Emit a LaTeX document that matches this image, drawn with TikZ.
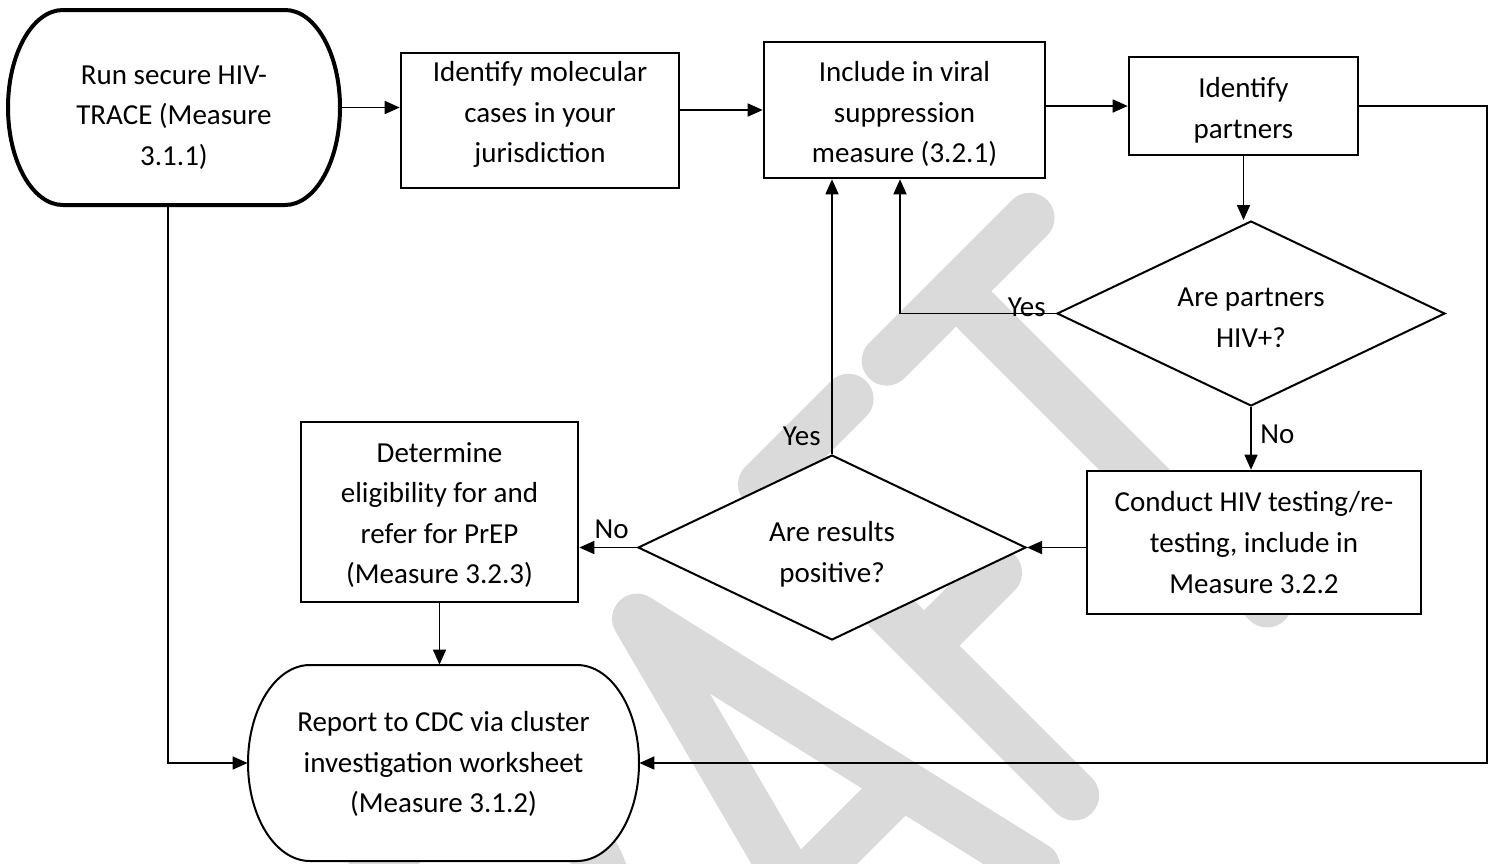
\documentclass[tikz,border=0pt]{standalone}
\usepackage{fontspec}
\setmainfont{Carlito}
\usetikzlibrary{shapes.geometric, arrows.meta, fit, calc}
\definecolor{wmgray}{RGB}{218,218,218}
\begin{document}
\begin{tikzpicture}[x=0.5pt, y=-0.5pt,
  every node/.style={font=\fontsize{14.5pt}{20.3pt}\selectfont},
  box/.style={draw, line width=1.3pt, fill=white, inner sep=0pt, rectangle},
  term/.style={inner sep=0pt, rectangle},
  termline/.style={draw, fill=white, line width=1pt},
  decision/.style={draw, diamond, line width=1pt, fill=white, inner sep=0pt, aspect=2.1,
                   minimum width=194pt, minimum height=92.5pt},
  txt/.style={inner sep=0pt, align=center},
  conn/.style={line width=0.8pt, -{Triangle[length=7.5pt,width=6.5pt]}},
  lbl/.style={inner sep=0pt},
  wm/.style={draw=wmgray, line width=25pt, line cap=round, line join=round},
]
\useasboundingbox (0,0) rectangle (1492,863);
\fill[white] (0,0) rectangle (1492,863);

% diagonal DRAFT watermark, stroked letters in a rotated frame
\begin{scope}
  \clip (0,0) rectangle (1492,863);
  \begin{scope}[rotate=45]
    % R
    \draw[wm] (-370,1322) -- (-370,882) -- (-265,882)
      .. controls (-150,882) and (-150,1092) .. (-265,1092) -- (-370,1092);
    \draw[wm] (-285,1092) -- (-175,1322);
    % A
    \draw[wm] (-107,1345) -- (13,888) -- (119,1345);
    \draw[wm] (-67,1192) -- (83,1192);
    % F
    \draw[wm] (197,1322) -- (197,882) -- (318,882);
    \draw[wm] (197,1110) -- (300,1110);
    % T
    \draw[wm] (372,882) -- (574,882);
    \draw[wm] (470,882) -- (470,1322);
  \end{scope}
\end{scope}

% terminator outlines
\draw[termline, line width=2pt] (63,10) -- (285,10)
  arc[start angle=90, end angle=-90, x radius=27.5pt, y radius=48.75pt] -- (63,205)
  arc[start angle=270, end angle=90, x radius=27.5pt, y radius=48.75pt] -- cycle;
\draw[termline] (310,665) -- (577,665)
  arc[start angle=90, end angle=-90, x radius=31pt, y radius=49pt] -- (310,861)
  arc[start angle=270, end angle=90, x radius=31pt, y radius=49pt] -- cycle;

% shapes
\node[term, fit={(8,10)(340,205)}] (start) {};
\node[box, fit={(401,53)(679,188)}] (molec) {};
\node[box, fit={(764,42)(1045,178)}] (viral) {};
\node[box, fit={(1129,57)(1358,155)}] (partners) {};
\node[decision] (d1) at (1251,313.5) {};
\node[box, fit={(1087,471)(1421,614)}] (conduct) {};
\node[decision] (d2) at (832,547.5) {};
\node[box, fit={(301,422)(578,602)}] (prep) {};
\node[term, fit={(248,665)(639,861)}] (report) {};

% texts
\node[txt] (startT) at ([yshift=-5pt]start.center) {Run secure HIV-\\TRACE (Measure\\3.1.1)};
\node[txt] (molecT) at ([yshift=3pt]molec.center) {Identify molecular\\cases in your\\jurisdiction};
\node[txt] (viralT) at ([yshift=-2pt]viral.center) {Include in viral\\suppression\\measure (3.2.1)};
\node[txt] (partnersT) at ([yshift=-2pt]partners.center) {Identify\\partners};
\node[txt] (d1T) at ([yshift=-2pt]d1.center) {Are partners\\HIV+?};
\node[txt] (conductT) at (conduct.center) {Conduct HIV testing/re-\\testing, include in\\Measure 3.2.2};
\node[txt] (d2T) at ([yshift=-3.5pt]d2.center) {Are results\\positive?};
\node[txt] (prepT) at ([yshift=-1.5pt]prep.center) {Determine\\eligibility for and\\refer for PrEP\\(Measure 3.2.3)};
\node[txt] (reportT) at ([yshift=-0.5pt]report.center) {Report to CDC via cluster\\investigation worksheet\\(Measure 3.1.2)};

\coordinate (yv) at (900,0);
\coordinate (rc) at (1487,0);

% connectors
\draw[conn] (start.east) -- (start.east -| molec.west);
\draw[conn] (molec.east |- viral.west) -- (viral.west);
\draw[conn] (viral.east |- partners.west) -- (partners.west);
\draw[conn] (partners.south) -- (partners.south |- d1.north);
\draw[conn] (d1.south) -- (d1.south |- conduct.north);
\draw[conn] (conduct.west |- d2.east) -- (d2.east);
\draw[conn] (d2.west) -- (d2.west -| prep.east);
\draw[conn] (d2.north) -- (d2.north |- viral.south);
\draw[conn] (d1.west) -| (yv |- viral.south);
\draw[conn] (prep.south) -- (prep.south |- report.north);
\draw[conn] ([xshift=-3pt]start.south) |- (report.west);
\draw[conn] (partners.east) -- (partners.east -| rc) -- (rc |- report.east) -- (report.east);

% branch labels
\node[lbl, anchor=base east] (yes1) at ([xshift=-5pt, yshift=-1.5pt]d1.west) {Yes};
\node[lbl, anchor=base east] (yes2) at ([xshift=-5.5pt, yshift=4.5pt]d2.north) {Yes};
\node[lbl, anchor=base west] (no1) at ([xshift=4.5pt, yshift=-18pt]d1.south) {No};
\node[lbl, anchor=base east] (no2) at ([xshift=-4pt, yshift=4.5pt]d2.west) {No};
\end{tikzpicture}
\end{document}
